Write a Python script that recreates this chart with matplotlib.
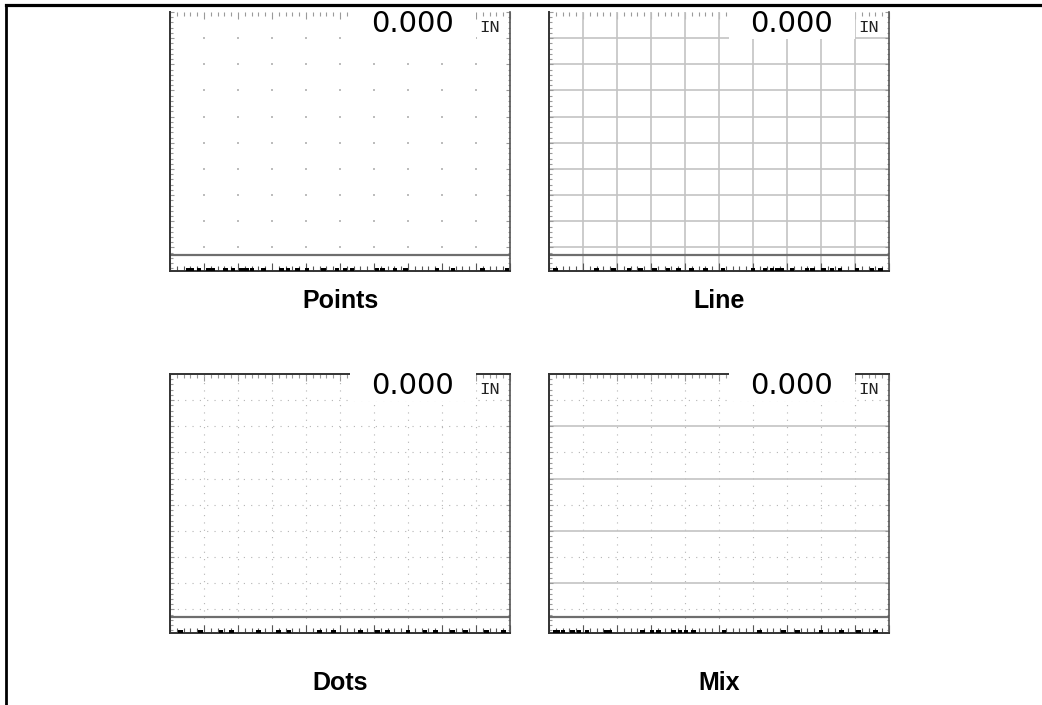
import numpy as np
import matplotlib.pyplot as plt
from matplotlib.lines import Line2D
from matplotlib.patches import Rectangle
from matplotlib.ticker import MultipleLocator

W, H = 1042, 705

# panel titles, grid positions and readout text
titles = ['Points', 'Line', 'Dots', 'Mix']
grid_cols = [1, 2, 3, 4, 5, 6, 7, 8, 9]
grid_rows = [0, 1, 2, 3, 4, 5, 6, 7, 8]
readout_value = '0.000'
readout_unit = 'IN'
baseline_y = -0.29

# little black marks along the bottom edge of each panel (x in grid units)
marks_points = [0.53, 0.65, 0.85, 1.12, 1.24, 1.63, 1.85, 2.1, 2.26, 2.41, 2.75, 3.29, 3.47,
                3.74, 4.03, 4.51, 4.91, 5.15, 5.35, 6.09, 6.26, 6.62, 6.93, 7.85, 8.32, 9.18, 9.91]
marks_line = [0.2, 1.4, 1.9, 2.35, 2.7, 3.1, 3.5, 3.8, 4.2, 4.6, 5.12, 6.0, 6.35, 6.56, 6.71,
              6.85, 7.15, 7.59, 7.76, 8.07, 8.32, 8.56, 9.06, 9.5, 9.75]
marks_dots = [0.3, 0.9, 1.5, 1.8, 2.6, 3.2, 3.5, 4.4, 4.8, 5.6, 6.1, 6.4, 7.0, 7.5, 7.8,
              8.3, 8.7, 9.3, 9.8]
marks_mix = [0.18, 0.26, 0.41, 0.68, 0.88, 1.12, 1.68, 1.79, 2.76, 3.03, 3.21, 3.66, 3.85,
             4.03, 4.24, 5.15, 6.2, 6.9, 7.3, 8.0, 8.6, 9.1, 9.6]
marks = [marks_points, marks_line, marks_dots, marks_mix]

# panel boxes in pixels: left, top, width, height
boxes = [(170, 12, 340, 259), (549, 12, 340, 259), (170, 374, 340, 259), (549, 374, 340, 259)]
label_pos = [(340, 301), (719, 301), (340, 683), (719, 683)]

fig = plt.figure(figsize=(W / 100, H / 100), dpi=100)
fig.patch.set_facecolor('white')

# outer table border (top and left only)
fig.add_artist(Line2D([6 / W, 1], [1 - 4.5 / H, 1 - 4.5 / H], color='black', lw=2.3))
fig.add_artist(Line2D([6 / W, 6 / W], [0, 1 - 4.5 / H], color='black', lw=2.0))

dots_style = dict(color='#b4b4b4', lw=0.8, dashes=(1, 5.6))

for i, (l, t, w, h) in enumerate(boxes):
    ax = fig.add_axes([l / W, 1 - (t + h) / H, w / W, h / H])
    ax.set_xlim(0, 10)
    ax.set_ylim(-0.9, 9.0)
    kind = titles[i]

    if kind == 'Points':
        gx, gy = np.meshgrid(grid_cols, grid_rows)
        ax.scatter(gx.ravel(), gy.ravel(), s=1.3, marker='s', color='#bdbdbd', lw=0, zorder=1)
    elif kind == 'Line':
        for c in grid_cols:
            ax.axvline(c, color='#c4c4c4', lw=1.2, zorder=1)
        for r in grid_rows:
            ax.axhline(r, color='#c4c4c4', lw=1.2, zorder=1)
    elif kind == 'Dots':
        for c in grid_cols:
            ax.axvline(c, zorder=1, **dots_style)
        for r in grid_rows:
            ax.axhline(r, zorder=1, **dots_style)
    else:
        for c in grid_cols:
            ax.axvline(c, zorder=1, **dots_style)
        for r in grid_rows:
            if r % 2 == 1:
                ax.axhline(r, color='#c4c4c4', lw=1.2, zorder=1)
            else:
                ax.axhline(r, zorder=1, **dots_style)

    # baseline
    ax.axhline(baseline_y, color='#6e6e6e', lw=1.6, zorder=2)

    # black marks at bottom
    ax.bar(marks[i], 0.12, bottom=-0.9, width=0.14, color='black', zorder=3)

    # ticks
    ax.xaxis.set_major_locator(MultipleLocator(1))
    ax.xaxis.set_minor_locator(MultipleLocator(0.2))
    ax.yaxis.set_major_locator(MultipleLocator(1))
    ax.yaxis.set_minor_locator(MultipleLocator(0.2))
    ax.tick_params(axis='x', which='both', direction='in', bottom=True, top=False,
                   labelbottom=False, color='#555555', width=0.8)
    ax.tick_params(axis='x', which='major', length=5.5)
    ax.tick_params(axis='x', which='minor', length=3.5)
    ax.tick_params(axis='y', which='both', direction='in', left=True, right=True,
                   labelleft=False, color='#9a9a9a', width=0.8)
    ax.tick_params(axis='y', which='major', length=3.0)
    ax.tick_params(axis='y', which='minor', length=1.8)

    top = ax.secondary_xaxis('top')
    top.xaxis.set_major_locator(MultipleLocator(1))
    top.xaxis.set_minor_locator(MultipleLocator(0.2))
    top.tick_params(which='both', direction='in', labeltop=False, color='#9a9a9a', width=0.8)
    top.tick_params(which='major', length=4.8)
    top.tick_params(which='minor', length=2.8)
    top.spines['top'].set_visible(False)

    for side in ['left', 'bottom']:
        ax.spines[side].set_color('#333333')
        ax.spines[side].set_linewidth(1.4)
    ax.spines['right'].set_color('#555555')
    ax.spines['right'].set_linewidth(1.2)
    if i < 2:
        ax.spines['top'].set_visible(False)
    else:
        ax.spines['top'].set_color('#333333')
        ax.spines['top'].set_linewidth(1.4)

    # readout box and text
    ax.add_patch(Rectangle((0.53, 0.895), 0.37, 0.12, transform=ax.transAxes,
                           facecolor='white', edgecolor='none', zorder=4, clip_on=False))
    ax.text(0.835, 0.922, readout_value, transform=ax.transAxes, ha='right', va='baseline',
            fontsize=21, family='DejaVu Sans', color='black', zorder=5)
    ax.text(0.97, 0.922, readout_unit, transform=ax.transAxes, ha='right', va='baseline',
            fontsize=12.5, family='Liberation Mono', color='#222222', zorder=5)

    lx, ly = label_pos[i]
    fig.text(lx / W, 1 - ly / H, kind, ha='center', va='center', fontsize=18,
             fontweight='bold', family='Liberation Sans')

fig.savefig('out.png', dpi=100, facecolor='white')
